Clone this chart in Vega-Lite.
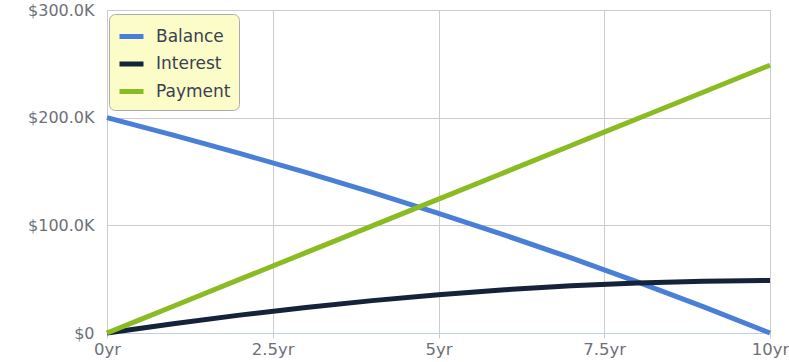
{
  "$schema": "https://vega.github.io/schema/vega-lite/v6.json",
  "width": 663,
  "height": 323,
  "autosize": "none",
  "padding": {"left": 107, "top": 10, "right": 19, "bottom": 29},
  "background": "white",
  "config": {
    "font": "DejaVu Sans",
    "view": {"stroke": "#cccccc", "strokeWidth": 1},
    "axis": {
      "labelFont": "DejaVu Sans",
      "labelFontSize": 16,
      "labelColor": "#6e7078",
      "gridColor": "#cccccc",
      "gridWidth": 1,
      "title": null
    }
  },
  "data": {
    "values": [
      {"year": 0, "series": "Balance", "amount": 200000},
      {"year": 1, "series": "Balance", "amount": 183795},
      {"year": 2, "series": "Balance", "amount": 166846},
      {"year": 3, "series": "Balance", "amount": 149118},
      {"year": 4, "series": "Balance", "amount": 130576},
      {"year": 5, "series": "Balance", "amount": 111181},
      {"year": 6, "series": "Balance", "amount": 90895},
      {"year": 7, "series": "Balance", "amount": 69678},
      {"year": 8, "series": "Balance", "amount": 47486},
      {"year": 9, "series": "Balance", "amount": 24274},
      {"year": 10, "series": "Balance", "amount": 0},
      {"year": 0, "series": "Interest", "amount": 0},
      {"year": 1, "series": "Interest", "amount": 8668},
      {"year": 2, "series": "Interest", "amount": 16593},
      {"year": 3, "series": "Interest", "amount": 23738},
      {"year": 4, "series": "Interest", "amount": 30070},
      {"year": 5, "series": "Interest", "amount": 35548},
      {"year": 6, "series": "Interest", "amount": 40135},
      {"year": 7, "series": "Interest", "amount": 43792},
      {"year": 8, "series": "Interest", "amount": 46473},
      {"year": 9, "series": "Interest", "amount": 48135},
      {"year": 10, "series": "Interest", "amount": 48734},
      {"year": 0, "series": "Payment", "amount": 0},
      {"year": 1, "series": "Payment", "amount": 24873},
      {"year": 2, "series": "Payment", "amount": 49747},
      {"year": 3, "series": "Payment", "amount": 74620},
      {"year": 4, "series": "Payment", "amount": 99494},
      {"year": 5, "series": "Payment", "amount": 124367},
      {"year": 6, "series": "Payment", "amount": 149240},
      {"year": 7, "series": "Payment", "amount": 174114},
      {"year": 8, "series": "Payment", "amount": 198987},
      {"year": 9, "series": "Payment", "amount": 223861},
      {"year": 10, "series": "Payment", "amount": 248734}
    ]
  },
  "mark": {"type": "line", "strokeWidth": 5, "interpolate": "monotone", "strokeCap": "butt"},
  "encoding": {
    "x": {
      "field": "year",
      "type": "quantitative",
      "scale": {"domain": [0, 10], "nice": false},
      "axis": {
        "values": [0, 2.5, 5, 7.5, 10],
        "labelExpr": "datum.value + 'yr'",
        "labelFontSize": 16.5,
        "domainColor": "#c0d0e0",
        "domainWidth": 1,
        "tickColor": "#cccccc",
        "tickSize": 5,
        "labelPadding": 3,
        "labelFlush": false
      }
    },
    "y": {
      "field": "amount",
      "type": "quantitative",
      "scale": {"domain": [0, 300000], "nice": false},
      "axis": {
        "values": [0, 100000, 200000, 300000],
        "labelExpr": "datum.value == 0 ? '$0' : '$' + format(datum.value / 1000, '.1f') + 'K'",
        "domainColor": "#cccccc",
        "ticks": false,
        "labelPadding": 13
      }
    },
    "color": {
      "field": "series",
      "type": "nominal",
      "scale": {
        "domain": ["Balance", "Interest", "Payment"],
        "range": ["#4a7fd8", "#14223a", "#8bbb22"]
      },
      "legend": {
        "title": null,
        "orient": "none",
        "legendX": 2,
        "legendY": 4,
        "symbolType": "stroke",
        "symbolSize": 576,
        "symbolStrokeWidth": 5,
        "labelFontSize": 17,
        "labelColor": "#3a4150",
        "labelOffset": 10,
        "rowPadding": 2.5,
        "padding": 8,
        "fillColor": "#fcfcc8",
        "strokeColor": "#aaaaaa",
        "cornerRadius": 6
      }
    }
  }
}
